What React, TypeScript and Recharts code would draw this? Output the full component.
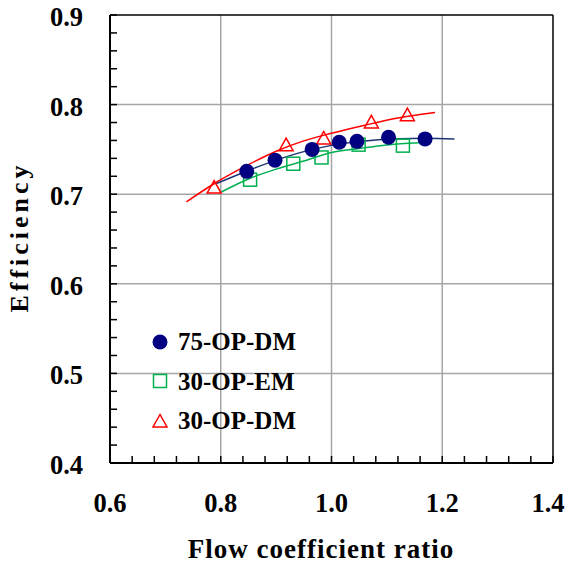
import {
  ComposedChart,
  Line,
  Scatter,
  XAxis,
  YAxis,
  ReferenceLine,
  Legend,
} from "recharts";

const FONT = '"Liberation Serif", "Times New Roman", serif';

const NAVY = "#000080";
const NAVY_LINE = "#1b3473";
const GREEN = "#00b050";
const RED = "#ff0000";
const GRID = "#a6a6a6";

// axis ticks (minor ticks every 0.04 / 0.02, labels on the majors)
const xTicks = [
  0.6, 0.64, 0.68, 0.72, 0.76, 0.8, 0.84, 0.88, 0.92, 0.96, 1.0, 1.04, 1.08,
  1.12, 1.16, 1.2, 1.24, 1.28, 1.32, 1.36, 1.4,
];
const yTicks = [
  0.4, 0.42, 0.44, 0.46, 0.48, 0.5, 0.52, 0.54, 0.56, 0.58, 0.6, 0.62, 0.64,
  0.66, 0.68, 0.7, 0.72, 0.74, 0.76, 0.78, 0.8, 0.82, 0.84, 0.86, 0.88, 0.9,
];
const xMajor = [0.6, 0.8, 1.0, 1.2, 1.4];
const yMajor = [0.4, 0.5, 0.6, 0.7, 0.8, 0.9];
const xGrid = [0.8, 1.0, 1.2];
const yGrid = [0.5, 0.6, 0.7, 0.8];

// measured points
const dm75X = [0.847, 0.898, 0.965, 1.014, 1.046, 1.103, 1.169];
const dm75Y = [0.7255, 0.738, 0.75, 0.758, 0.759, 0.7635, 0.7617];
const em30X = [0.853, 0.931, 0.982, 1.049, 1.129];
const em30Y = [0.7162, 0.734, 0.741, 0.7553, 0.7542];
const dm30X = [0.788, 0.918, 0.986, 1.072, 1.137];
const dm30Y = [0.708, 0.7553, 0.7628, 0.7807, 0.7888];

// fitted trend curves
const fit75X = [0.792, 0.85, 0.9, 0.95, 1.0, 1.06, 1.12, 1.17, 1.222];
const fit75Y = [0.7118, 0.7265, 0.738, 0.7475, 0.7545, 0.7595, 0.762, 0.7625, 0.7615];
const fitEmX = [0.801, 0.85, 0.9, 0.95, 1.0, 1.05, 1.1, 1.173];
const fitEmY = [0.7025, 0.717, 0.728, 0.737, 0.7465, 0.751, 0.755, 0.758];
const fitDmX = [0.738, 0.79, 0.85, 0.9, 0.95, 1.0, 1.06, 1.12, 1.187];
const fitDmY = [0.6915, 0.7125, 0.733, 0.748, 0.7595, 0.768, 0.777, 0.785, 0.7912];

const legendNames = ["75-OP-DM", "30-OP-EM", "30-OP-DM"];
const legendKinds = ["circle", "square", "triangle"];

const zip = (xs: number[], ys: number[]) => xs.map((x, i) => ({ x, y: ys[i] }));

const isMajor = (v: number, majors: number[]) =>
  majors.some((m) => Math.abs(m - v) < 1e-9);

function XTick(props: any) {
  const { x, y, payload } = props;
  const v = payload.value as number;
  return (
    <g>
      <line x1={x} y1={y} x2={x} y2={y - 7} stroke="#000" strokeWidth={1.5} />
      {isMajor(v, xMajor) && (
        <text
          x={Math.min(x, 548)}
          y={y + 49}
          textAnchor="middle"
          fontFamily={FONT}
          fontWeight="bold"
          fontSize={26.5}
          fill="#000"
        >
          {v.toFixed(1)}
        </text>
      )}
    </g>
  );
}

function YTick(props: any) {
  const { x, y, payload } = props;
  const v = payload.value as number;
  return (
    <g>
      <line x1={x} y1={y} x2={x + 7} y2={y} stroke="#000" strokeWidth={1.5} />
      {isMajor(v, yMajor) && (
        <text
          x={x - 27}
          y={y + 11}
          textAnchor="end"
          fontFamily={FONT}
          fontWeight="bold"
          fontSize={26.5}
          fill="#000"
        >
          {v.toFixed(1)}
        </text>
      )}
    </g>
  );
}

function Marker({ kind, cx, cy }: { kind: string; cx: number; cy: number }) {
  if (kind === "circle") return <circle cx={cx} cy={cy} r={7.5} fill={NAVY} />;
  if (kind === "square")
    return (
      <rect
        x={cx - 6.5}
        y={cy - 6.5}
        width={13}
        height={13}
        fill="none"
        stroke={GREEN}
        strokeWidth={1.5}
      />
    );
  return (
    <polygon
      points={`${cx},${cy - 6.5} ${cx - 7},${cy + 6} ${cx + 7},${cy + 6}`}
      fill="none"
      stroke={RED}
      strokeWidth={1.5}
    />
  );
}

const circleShape = (p: any) => <Marker kind="circle" cx={p.cx} cy={p.cy} />;
const squareShape = (p: any) => <Marker kind="square" cx={p.cx} cy={p.cy} />;
const triangleShape = (p: any) => <Marker kind="triangle" cx={p.cx} cy={p.cy} />;

function LegendBox() {
  return (
    <div style={{ fontFamily: FONT, fontWeight: "bold", fontSize: 25, color: "#000" }}>
      {legendNames.map((name, i) => (
        <div
          key={name}
          style={{ display: "flex", alignItems: "center", height: 39.5, lineHeight: "39.5px" }}
        >
          <svg width={20} height={20} style={{ marginRight: 8 }}>
            <Marker kind={legendKinds[i]} cx={10} cy={10} />
          </svg>
          <span>{name}</span>
        </div>
      ))}
    </div>
  );
}

const xTitle = () => (
  <text
    x={321}
    y={558}
    textAnchor="middle"
    fontFamily={FONT}
    fontWeight="bold"
    fontSize={27}
    letterSpacing={1}
    fill="#000"
  >
    Flow coefficient ratio
  </text>
);

const yTitle = () => (
  <text
    x={28}
    y={237}
    transform="rotate(-90 28 237)"
    textAnchor="middle"
    fontFamily={FONT}
    fontWeight="bold"
    fontSize={26}
    letterSpacing={4}
    fill="#000"
  >
    Efficiency
  </text>
);

export default function App() {
  return (
    <div style={{ position: "absolute", left: 0, top: 0, width: 568, height: 565, background: "#fff" }}>
      <ComposedChart width={568} height={565} margin={{ top: 15, right: 15, left: 0, bottom: 0 }}>
        <XAxis
          type="number"
          dataKey="x"
          domain={[0.6, 1.4]}
          ticks={xTicks}
          interval={0}
          tickSize={0}
          tickMargin={0}
          tickLine={false}
          tick={<XTick />}
          axisLine={{ stroke: "#000", strokeWidth: 2 }}
          height={102}
          allowDataOverflow
          label={xTitle}
        />
        <YAxis
          type="number"
          dataKey="y"
          domain={[0.4, 0.9]}
          ticks={yTicks}
          interval={0}
          tickSize={0}
          tickMargin={0}
          tickLine={false}
          tick={<YTick />}
          axisLine={{ stroke: "#000", strokeWidth: 2 }}
          width={110}
          allowDataOverflow
          label={yTitle}
        />
        {xGrid.map((v) => (
          <ReferenceLine key={`gx${v}`} x={v} stroke={GRID} strokeWidth={1.5} />
        ))}
        {yGrid.map((v) => (
          <ReferenceLine key={`gy${v}`} y={v} stroke={GRID} strokeWidth={1.5} />
        ))}
        <ReferenceLine y={0.9} stroke="#000" strokeWidth={1.5} />
        <ReferenceLine x={1.4} stroke="#000" strokeWidth={1.5} />
        <Line
          data={zip(fitDmX, fitDmY)}
          dataKey="y"
          type="monotone"
          stroke={RED}
          strokeWidth={1.5}
          dot={false}
          activeDot={false}
          legendType="none"
          isAnimationActive={false}
        />
        <Line
          data={zip(fitEmX, fitEmY)}
          dataKey="y"
          type="monotone"
          stroke={GREEN}
          strokeWidth={1.5}
          dot={false}
          activeDot={false}
          legendType="none"
          isAnimationActive={false}
        />
        <Line
          data={zip(fit75X, fit75Y)}
          dataKey="y"
          type="monotone"
          stroke={NAVY_LINE}
          strokeWidth={1.5}
          dot={false}
          activeDot={false}
          legendType="none"
          isAnimationActive={false}
        />
        <Scatter
          name={legendNames[1]}
          data={zip(em30X, em30Y)}
          dataKey="y"
          shape={squareShape}
          isAnimationActive={false}
        />
        <Scatter
          name={legendNames[2]}
          data={zip(dm30X, dm30Y)}
          dataKey="y"
          shape={triangleShape}
          isAnimationActive={false}
        />
        <Scatter
          name={legendNames[0]}
          data={zip(dm75X, dm75Y)}
          dataKey="y"
          shape={circleShape}
          isAnimationActive={false}
        />
        <Legend
          layout="vertical"
          align="center"
          verticalAlign="middle"
          content={<LegendBox />}
          wrapperStyle={{ left: 150, top: 322, width: 200, height: 120 }}
        />
      </ComposedChart>
    </div>
  );
}
